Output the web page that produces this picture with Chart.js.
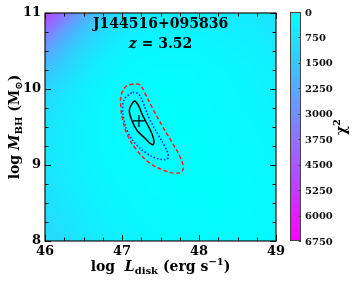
<!DOCTYPE html>
<html>
<head>
<meta charset="utf-8">
<script src="https://cdn.jsdelivr.net/npm/chart.js@4.4.1/dist/chart.umd.min.js"></script>
<style>
  html, body { margin: 0; padding: 0; background: #fff; }
  canvas { display: block; }
</style>
</head>
<body>
<canvas id="chart_one" width="359" height="285"></canvas>
<script>
// chi2 map (rows: log M_BH from 11 down to 8, cols: log L_disk 46..49)
const gridX = [46, 46.25, 46.5, 46.75, 47, 47.25, 47.5, 47.75, 48, 48.25, 48.5, 48.75, 49];
const gridY = [11, 10.75, 10.5, 10.25, 10, 9.75, 9.5, 9.25, 9, 8.75, 8.5, 8.25, 8];
const chi2Map = [
  [5000, 3600, 2300, 1400, 900, 650, 520, 470, 460, 480, 540, 640, 780],
  [3600, 2400, 1500, 900, 560, 400, 330, 310, 320, 360, 420, 510, 630],
  [2400, 1600, 1000, 580, 350, 240, 200, 200, 220, 260, 320, 400, 500],
  [1600, 1100, 650, 380, 200, 120, 100, 110, 140, 190, 250, 320, 410],
  [1100, 750, 450, 250, 110, 50, 40, 60, 100, 150, 210, 280, 360],
  [850, 580, 360, 190, 70, 15, 10, 30, 70, 120, 180, 240, 310],
  [720, 500, 320, 180, 70, 10, 5, 15, 50, 100, 150, 210, 270],
  [680, 480, 320, 190, 100, 40, 15, 10, 35, 80, 130, 180, 240],
  [700, 500, 340, 220, 140, 80, 45, 25, 30, 60, 110, 160, 210],
  [760, 560, 390, 270, 180, 120, 80, 55, 45, 55, 90, 140, 190],
  [860, 640, 460, 330, 230, 170, 120, 90, 70, 65, 85, 125, 170],
  [980, 740, 550, 400, 290, 220, 170, 130, 100, 90, 95, 120, 160],
  [1120, 860, 650, 480, 360, 280, 220, 170, 140, 120, 115, 130, 160]
];

const bestFit = [{x: 47.22, y: 9.58}];

const contour1 = [
  {x: 47.147, y: 9.833}, {x: 47.095, y: 9.724}, {x: 47.126, y: 9.592}, {x: 47.191, y: 9.461},
  {x: 47.299, y: 9.351}, {x: 47.394, y: 9.267}, {x: 47.416, y: 9.307}, {x: 47.386, y: 9.417},
  {x: 47.321, y: 9.549}, {x: 47.256, y: 9.680}, {x: 47.212, y: 9.789}, {x: 47.169, y: 9.842}
];
const contour2 = [
  {x: 47.126, y: 9.951}, {x: 47.039, y: 9.878}, {x: 47.009, y: 9.767}, {x: 47.026, y: 9.592},
  {x: 47.082, y: 9.417}, {x: 47.191, y: 9.263}, {x: 47.321, y: 9.154}, {x: 47.451, y: 9.088},
  {x: 47.581, y: 9.075}, {x: 47.601, y: 9.132}, {x: 47.558, y: 9.241}, {x: 47.471, y: 9.395},
  {x: 47.364, y: 9.592}, {x: 47.277, y: 9.812}, {x: 47.225, y: 9.921}, {x: 47.169, y: 9.957}
];
const contour3 = [
  {x: 47.147, y: 10.066}, {x: 47.061, y: 10.039}, {x: 46.996, y: 9.943}, {x: 46.983, y: 9.812},
  {x: 47.009, y: 9.592}, {x: 47.082, y: 9.372}, {x: 47.191, y: 9.197}, {x: 47.364, y: 9.022},
  {x: 47.536, y: 8.934}, {x: 47.688, y: 8.891}, {x: 47.775, y: 8.912}, {x: 47.796, y: 8.978},
  {x: 47.753, y: 9.109}, {x: 47.645, y: 9.307}, {x: 47.516, y: 9.526}, {x: 47.386, y: 9.767},
  {x: 47.299, y: 9.943}, {x: 47.234, y: 10.053}
];

const xTicks = [46, 47, 48, 49];
const yTicks = [8, 9, 10, 11];
const cbTicks = [0, 750, 1500, 2250, 3000, 3750, 4500, 5250, 6000, 6750];
const chi2Max = 6750;

const titleText = "J144516+095836";
const redshiftText = "3.52";

const SERIF = '"DejaVu Serif"';

// matplotlib "cool" colormap
function cool(v) {
  const t = Math.max(0, Math.min(1, v / chi2Max));
  return [Math.round(255 * t), Math.round(255 * (1 - t)), 255];
}

function closeLoop(pts) { return pts.concat([pts[0]]); }

// draws a run of text pieces (different fonts / offsets) starting at x
function drawRich(ctx, parts, x, y, align) {
  let w = 0;
  parts.forEach(p => { ctx.font = p.f; w += ctx.measureText(p.t).width; });
  let cx = align === 'center' ? x - w / 2 : x;
  ctx.textAlign = 'left';
  ctx.textBaseline = 'alphabetic';
  parts.forEach(p => {
    ctx.font = p.f;
    ctx.fillText(p.t, cx, y + (p.dy || 0));
    cx += ctx.measureText(p.t).width;
  });
}

const heatmapPlugin = {
  id: 'heatmap',
  beforeDatasetsDraw(chart) {
    const {ctx, chartArea: a, scales: {x, y}} = chart;
    const off = document.createElement('canvas');
    off.width = gridX.length;
    off.height = gridY.length;
    const octx = off.getContext('2d');
    const img = octx.createImageData(off.width, off.height);
    chi2Map.forEach((row, j) => row.forEach((v, i) => {
      const c = cool(v);
      const k = (j * off.width + i) * 4;
      img.data[k] = c[0]; img.data[k + 1] = c[1]; img.data[k + 2] = c[2]; img.data[k + 3] = 255;
    }));
    octx.putImageData(img, 0, 0);
    const dx = x.getPixelForValue(gridX[1]) - x.getPixelForValue(gridX[0]);
    const dy = y.getPixelForValue(gridY[1]) - y.getPixelForValue(gridY[0]);
    ctx.save();
    ctx.beginPath();
    ctx.rect(a.left, a.top, a.width, a.height);
    ctx.clip();
    ctx.imageSmoothingEnabled = true;
    ctx.imageSmoothingQuality = 'high';
    ctx.drawImage(off, x.getPixelForValue(gridX[0]) - dx / 2, y.getPixelForValue(gridY[0]) - dy / 2,
      dx * gridX.length, dy * gridY.length);
    ctx.restore();
  }
};

const framePlugin = {
  id: 'frame',
  afterDraw(chart) {
    const {ctx, chartArea: a, scales: {x, y}} = chart;
    ctx.save();
    ctx.strokeStyle = '#111';
    ctx.lineWidth = 1;
    // inward ticks on all four sides, minor every 0.25
    for (let v = 46; v <= 49.0001; v += 0.25) {
      const major = Math.abs(v - Math.round(v)) < 1e-6;
      const len = major ? 6 : 3.5;
      const px = Math.round(x.getPixelForValue(v)) + 0.5;
      ctx.beginPath();
      ctx.moveTo(px, a.bottom); ctx.lineTo(px, a.bottom - len);
      ctx.moveTo(px, a.top); ctx.lineTo(px, a.top + len);
      ctx.stroke();
    }
    for (let v = 8; v <= 11.0001; v += 0.25) {
      const major = Math.abs(v - Math.round(v)) < 1e-6;
      const len = major ? 6 : 3.5;
      const py = Math.round(y.getPixelForValue(v)) + 0.5;
      ctx.beginPath();
      ctx.moveTo(a.left, py); ctx.lineTo(a.left + len, py);
      ctx.moveTo(a.right, py); ctx.lineTo(a.right - len, py);
      ctx.stroke();
    }
    ctx.lineWidth = 1.2;
    ctx.strokeRect(a.left, a.top, a.width, a.height);

    // colorbar
    const cbL = 290, cbW = 11, cbT = a.top - 1, cbB = a.bottom;
    const cbY = v => cbT + (v / chi2Max) * (cbB - cbT);
    const grad = ctx.createLinearGradient(0, cbT, 0, cbB);
    grad.addColorStop(0, 'rgb(' + cool(0).join(',') + ')');
    grad.addColorStop(1, 'rgb(' + cool(chi2Max).join(',') + ')');
    ctx.fillStyle = grad;
    ctx.fillRect(cbL, cbT, cbW, cbB - cbT);
    ctx.lineWidth = 1;
    ctx.strokeStyle = '#444';
    ctx.strokeRect(cbL + 0.5, cbT + 0.5, cbW - 1, cbB - cbT - 1);
    ctx.fillStyle = '#111';
    ctx.font = 'bold 10px ' + SERIF;
    ctx.textAlign = 'left';
    ctx.textBaseline = 'middle';
    cbTicks.forEach(v => {
      const py = Math.round(cbY(v)) + 0.5;
      ctx.beginPath();
      ctx.moveTo(cbL + cbW, py); ctx.lineTo(cbL + cbW - 2.5, py);
      ctx.stroke();
      ctx.fillText(String(v), cbL + cbW + 4, cbY(v) + 1);
    });

    // texts
    ctx.fillStyle = '#000';
    const cx = (a.left + a.right) / 2;
    const B = 'bold 14px ' + SERIF, BI = 'italic bold 14px ' + SERIF, S = 'bold 10px ' + SERIF;
    drawRich(ctx, [{t: titleText, f: B}], cx, 28, 'center');
    drawRich(ctx, [{t: 'z', f: BI}, {t: ' = ' + redshiftText, f: B}], cx, 48, 'center');
    drawRich(ctx, [
      {t: 'log  ', f: B}, {t: 'L', f: BI}, {t: 'disk', f: S, dy: 3},
      {t: ' (erg s', f: B}, {t: '\u22121', f: S, dy: -6}, {t: ')', f: B}
    ], cx, 271, 'center');

    ctx.save();
    ctx.translate(19, (a.top + a.bottom) / 2);
    ctx.rotate(-Math.PI / 2);
    drawRich(ctx, [
      {t: 'log ', f: B}, {t: 'M', f: BI}, {t: 'BH', f: S, dy: 3},
      {t: ' (M', f: B}, {t: '\u2299', f: S, dy: 3}, {t: ')', f: B}
    ], 0, 0, 'center');
    ctx.restore();

    ctx.save();
    ctx.translate(346, (a.top + a.bottom) / 2);
    ctx.rotate(-Math.PI / 2);
    drawRich(ctx, [{t: '\u03c7', f: B}, {t: '2', f: S, dy: -6}], 0, 0, 'center');
    ctx.restore();
    ctx.restore();
  }
};

const tickFont = {family: SERIF, size: 13, weight: 'bold'};

new Chart(document.getElementById('chart_one'), {
  type: 'scatter',
  data: {
    datasets: [
      {
        data: closeLoop(contour3), showLine: true, pointRadius: 0, tension: 0.4,
        borderColor: '#ff1a1a', borderWidth: 1.5, borderDash: [4, 2.5]
      },
      {
        data: closeLoop(contour2), showLine: true, pointRadius: 0, tension: 0.4,
        borderColor: '#1a1aff', borderWidth: 1.6, borderDash: [1.5, 2]
      },
      {
        data: closeLoop(contour1), showLine: true, pointRadius: 0, tension: 0.4,
        borderColor: '#000', borderWidth: 1.5
      },
      {
        data: bestFit, pointStyle: 'cross', pointRadius: 6,
        borderColor: '#000', borderWidth: 1.2
      }
    ]
  },
  options: {
    responsive: false,
    animation: false,
    events: [],
    layout: {padding: {top: 13, right: 83, left: 0, bottom: 0}},
    scales: {
      x: {
        type: 'linear', min: 46, max: 49,
        afterFit(s) { s.height = 44; },
        afterBuildTicks(s) { s.ticks = xTicks.map(v => ({value: v})); },
        grid: {display: false, drawTicks: false},
        border: {display: false},
        ticks: {color: '#000', font: tickFont, padding: 3, maxRotation: 0, autoSkip: false}
      },
      y: {
        type: 'linear', min: 8, max: 11,
        afterFit(s) { s.width = 45; },
        afterBuildTicks(s) { s.ticks = yTicks.map(v => ({value: v})); },
        grid: {display: false, drawTicks: false},
        border: {display: false},
        ticks: {color: '#000', font: tickFont, padding: 4, autoSkip: false}
      }
    },
    plugins: {legend: {display: false}, tooltip: {enabled: false}}
  },
  plugins: [heatmapPlugin, framePlugin]
});
</script>
</body>
</html>
